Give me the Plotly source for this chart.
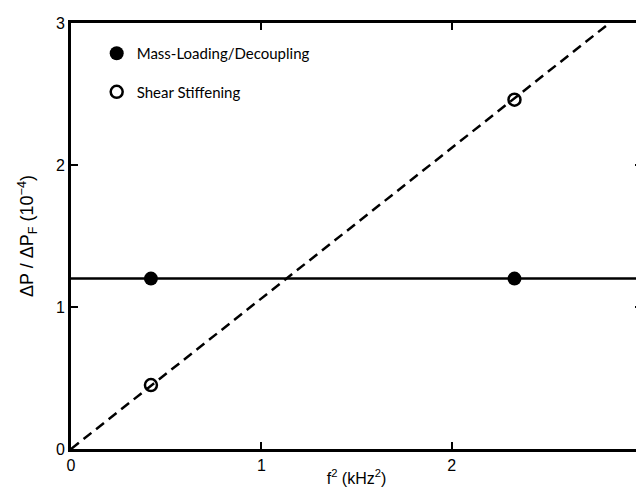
import plotly.graph_objects as go

# Data
freq_sq = [0.42, 2.33]                 # f^2 (kHz^2)
mass_loading = [1.2, 1.2]              # ΔP/ΔP_F (1e-4)
shear_stiff = [0.45, 2.46]
const_x = [0, 3]
const_y = [1.2, 1.2]
fit_x = [0, 2.83]
fit_y = [0, 3.0]
tick_vals = [0, 1, 2, 3]

fig = go.Figure()
fig.add_trace(go.Scatter(x=const_x, y=const_y, mode="lines",
                         line=dict(color="black", width=2.5), showlegend=False))
fig.add_trace(go.Scatter(x=fit_x, y=fit_y, mode="lines",
                         line=dict(color="black", width=2.5, dash="10px,6px"), showlegend=False))
fig.add_trace(go.Scatter(x=freq_sq, y=mass_loading, mode="markers", name="Mass-Loading/Decoupling",
                         marker=dict(symbol="circle", size=14, color="black"), legendgroup="a"))
fig.add_trace(go.Scatter(x=freq_sq, y=shear_stiff, mode="markers", name="Shear Stiffening",
                         marker=dict(symbol="circle-open", size=12, color="black",
                                     line=dict(width=2.5, color="black")), legendgroup="b"))

axis_common = dict(range=[0, 3], tickvals=tick_vals, ticks="inside", ticklen=7, tickwidth=2,
                   tickcolor="black", showline=True, linewidth=3, linecolor="black", mirror="ticks",
                   showgrid=False, zeroline=False,
                   tickfont=dict(family="Liberation Sans", size=16, color="black"))

fig.update_xaxes(**axis_common,
                 title=dict(text="f<sup>2</sup> (kHz<sup>2</sup>)", standoff=0,
                            font=dict(family="Liberation Sans", size=16, color="black")))
fig.update_yaxes(**axis_common,
                 title=dict(text="ΔP / ΔP<sub>F</sub> (10<sup>−4</sup>)", standoff=18,
                            font=dict(family="Liberation Sans", size=18, color="black")))

fig.update_layout(
    width=644, height=492,
    margin=dict(l=63, r=5, t=15, b=51),
    plot_bgcolor="white", paper_bgcolor="white",
    legend=dict(x=0.045, y=0.967, xanchor="left", yanchor="top", tracegroupgap=16,
                font=dict(family="Lato", size=15, color="black"),
                bgcolor="rgba(0,0,0,0)"),
)

fig.write_html("out.html")
